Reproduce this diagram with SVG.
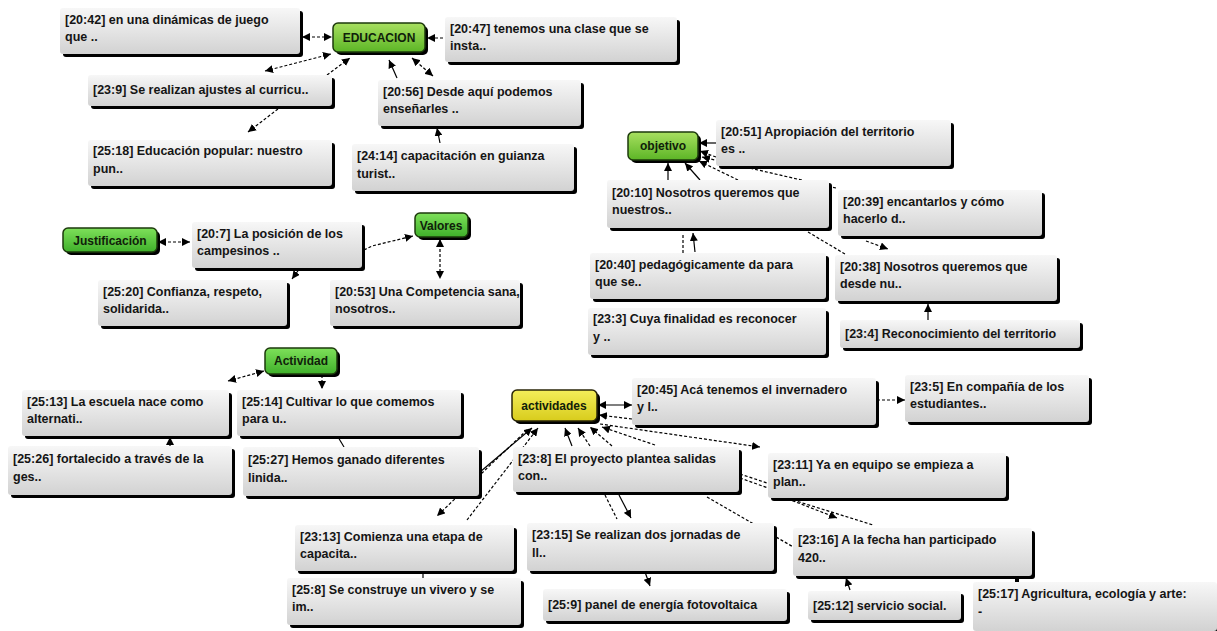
<svg xmlns="http://www.w3.org/2000/svg" width="1217" height="631" viewBox="0 0 1217 631">
<defs>
<linearGradient id="gbox" x1="0" y1="0" x2="0" y2="1"><stop offset="0" stop-color="#f7f7f7"/><stop offset="1" stop-color="#d2d2d2"/></linearGradient>
<linearGradient id="ggreen" x1="0" y1="0" x2="0" y2="1"><stop offset="0" stop-color="#a8e060"/><stop offset="1" stop-color="#5cb526"/></linearGradient>
<linearGradient id="ggreen2" x1="0" y1="0" x2="0" y2="1"><stop offset="0" stop-color="#7ee05a"/><stop offset="1" stop-color="#3fb02a"/></linearGradient>
<linearGradient id="gyellow" x1="0" y1="0" x2="0" y2="1"><stop offset="0" stop-color="#f4ee5a"/><stop offset="1" stop-color="#d8cc1c"/></linearGradient>
<marker id="ar" viewBox="0 0 8 8" refX="8" refY="4" markerWidth="8" markerHeight="8" markerUnits="userSpaceOnUse" orient="auto-start-reverse"><path d="M0,0 L8,4 L0,8 z" fill="#000"/></marker>
</defs>
<style>
.sh{fill:#000}
.box{fill:url(#gbox)}
.code{fill:url(#ggreen);stroke:#1d3a0c;stroke-width:1.5}
.code2{fill:url(#ggreen2);stroke:#1d3a0c;stroke-width:1.5}
.yel{fill:url(#gyellow);stroke:#2a2608;stroke-width:1.5}
text{font-family:"Liberation Sans",Arial,sans-serif;font-size:12.5px;font-weight:bold;fill:#151515}
.lbl{fill:#10200a;font-size:12px}
#connectors line,#connectors polyline{stroke:#000;stroke-width:1.2;fill:none}
.d{stroke-dasharray:3 2}
.e{marker-end:url(#ar)}
.s{marker-start:url(#ar)}
</style>
<rect width="1217" height="631" fill="#fff"/>
<g id="connectors">
<line class="d e s" x1="302" y1="37" x2="332" y2="37"/>
<line class="d e" x1="443" y1="38" x2="427" y2="38"/>
<line class="d e s" x1="265" y1="71" x2="331" y2="54"/>
<line class="d e" x1="327" y1="75" x2="350" y2="58"/>
<line class="d e" x1="278" y1="109" x2="248" y2="132"/>
<line class="e" x1="397" y1="78" x2="389" y2="60"/>
<line class="d e s" x1="412" y1="58" x2="433" y2="76"/>
<line class="e" x1="440" y1="143" x2="437" y2="128"/>
<line class="e" x1="716" y1="143" x2="699" y2="143"/>
<line class="d e" x1="716" y1="157" x2="700" y2="151"/>
<line class="e" x1="668" y1="180" x2="668" y2="163"/>
<line class="e" x1="700" y1="180" x2="685" y2="163"/>
<line class="d e" x1="738" y1="180" x2="699" y2="161"/>
<line class="d e" x1="836" y1="188" x2="702" y2="157"/>
<line class="d" x1="808" y1="232" x2="845" y2="254"/>
<line class="d e" x1="866" y1="241" x2="888" y2="249"/>
<line class="d" x1="683" y1="253" x2="683" y2="234"/>
<line class="e" x1="695" y1="252" x2="693" y2="233"/>
<line class="e" x1="928" y1="320" x2="928" y2="304"/>
<line class="d e s" x1="158" y1="242" x2="190" y2="242"/>
<polyline class="d e" points="364,250 372,246 413,236"/>
<line class="d e s" x1="440" y1="239" x2="440" y2="279"/>
<line class="e" x1="300" y1="268" x2="292" y2="279"/>
<line class="d e s" x1="228" y1="381" x2="264" y2="371"/>
<line class="d e" x1="322" y1="375" x2="322" y2="389"/>
<line class="e" x1="170" y1="446" x2="170" y2="437"/>
<line x1="338" y1="437" x2="344" y2="447"/>
<line class="e" x1="480" y1="472" x2="532" y2="428"/>
<line class="d e" x1="467" y1="520" x2="538" y2="428"/>
<line class="d e" x1="527" y1="430" x2="437" y2="516"/>
<line class="e s" x1="598" y1="405" x2="632" y2="405"/>
<line class="d e" x1="632" y1="419" x2="599" y2="415"/>
<line class="d e" x1="877" y1="400" x2="905" y2="400"/>
<line class="d e" x1="600" y1="424" x2="760" y2="447"/>
<line class="d e" x1="655" y1="445" x2="602" y2="427"/>
<line class="e" x1="572" y1="446" x2="565" y2="428"/>
<line class="d e" x1="590" y1="446" x2="578" y2="428"/>
<line class="d e" x1="612" y1="446" x2="590" y2="427"/>
<line class="d" x1="740" y1="474" x2="770" y2="484"/>
<line class="d" x1="740" y1="478" x2="768" y2="488"/>
<line class="d" x1="605" y1="495" x2="617" y2="519"/>
<line class="e" x1="619" y1="495" x2="631" y2="518"/>
<line class="d" x1="707" y1="497" x2="795" y2="548"/>
<line class="d e" x1="783" y1="497" x2="837" y2="518"/>
<line class="d" x1="793" y1="500" x2="873" y2="525"/>
<line class="e" x1="645" y1="572" x2="650" y2="586"/>
<line x1="423" y1="572" x2="423" y2="578"/>
<line class="e" x1="850" y1="590" x2="846" y2="578"/>
<line x1="1017" y1="577" x2="1017" y2="583" style="stroke-width:4"/>
</g>
<g id="n2042"><rect class="sh" x="63" y="11" width="240" height="46" rx="3"/><rect class="box" x="60" y="8" width="240" height="46" rx="3"/><text x="65" y="24">[20:42] en una dinámicas de juego<tspan x="65" y="41">que ..</tspan></text></g>
<g id="educacion"><rect class="sh" x="336" y="26" width="92" height="29" rx="5"/><rect class="code" x="333" y="23" width="92" height="29" rx="5"/><text class="lbl" x="379" y="42" text-anchor="middle">EDUCACION</text></g>
<g id="n2047"><rect class="sh" x="448" y="20" width="232" height="45" rx="3"/><rect class="box" x="445" y="17" width="232" height="45" rx="3"/><text x="450" y="33">[20:47] tenemos una clase que se<tspan x="450" y="50">insta..</tspan></text></g>
<g id="n239"><rect class="sh" x="91" y="78" width="244" height="31" rx="3"/><rect class="box" x="88" y="75" width="244" height="31" rx="3"/><text x="93" y="94">[23:9] Se realizan ajustes al curricu..</text></g>
<g id="n2056"><rect class="sh" x="381" y="83" width="203" height="46" rx="3"/><rect class="box" x="378" y="80" width="203" height="46" rx="3"/><text x="383" y="96">[20:56] Desde aquí podemos<tspan x="383" y="113">enseñarles ..</tspan></text></g>
<g id="n2518"><rect class="sh" x="91" y="143" width="244" height="46" rx="3"/><rect class="box" x="88" y="140" width="244" height="46" rx="3"/><text x="93" y="155">[25:18] Educación popular: nuestro<tspan x="93" y="173">pun..</tspan></text></g>
<g id="n2414"><rect class="sh" x="355" y="147" width="222" height="47" rx="3"/><rect class="box" x="352" y="144" width="222" height="47" rx="3"/><text x="357" y="160">[24:14] capacitación en guianza<tspan x="357" y="178">turist..</tspan></text></g>
<g id="objetivo"><rect class="sh" x="631" y="135" width="70" height="28" rx="5"/><rect class="code" x="628" y="132" width="70" height="28" rx="5"/><text class="lbl" x="663" y="150" text-anchor="middle">objetivo</text></g>
<g id="n2051"><rect class="sh" x="719" y="123" width="235" height="46" rx="3"/><rect class="box" x="716" y="120" width="235" height="46" rx="3"/><text x="721" y="136">[20:51] Apropiación del territorio<tspan x="721" y="153">es ..</tspan></text></g>
<g id="n2010"><rect class="sh" x="610" y="183" width="222" height="48" rx="3"/><rect class="box" x="607" y="180" width="222" height="48" rx="3"/><text x="612" y="197">[20:10] Nosotros queremos que<tspan x="612" y="214">nuestros..</tspan></text></g>
<g id="n2039"><rect class="sh" x="841" y="193" width="204" height="46" rx="3"/><rect class="box" x="838" y="190" width="204" height="46" rx="3"/><text x="843" y="206">[20:39] encantarlos y cómo<tspan x="843" y="223">hacerlo d..</tspan></text></g>
<g id="n2040"><rect class="sh" x="593" y="256" width="236" height="46" rx="3"/><rect class="box" x="590" y="253" width="236" height="46" rx="3"/><text x="595" y="269">[20:40] pedagógicamente da para<tspan x="595" y="286">que se..</tspan></text></g>
<g id="n2038"><rect class="sh" x="838" y="258" width="222" height="46" rx="3"/><rect class="box" x="835" y="255" width="222" height="46" rx="3"/><text x="840" y="271">[20:38] Nosotros queremos que<tspan x="840" y="288">desde nu..</tspan></text></g>
<g id="n233"><rect class="sh" x="591" y="311" width="238" height="47" rx="3"/><rect class="box" x="588" y="308" width="238" height="47" rx="3"/><text x="593" y="323">[23:3] Cuya finalidad es reconocer<tspan x="593" y="341">y ..</tspan></text></g>
<g id="n234"><rect class="sh" x="843" y="323" width="240" height="28" rx="3"/><rect class="box" x="840" y="320" width="240" height="28" rx="3"/><text x="845" y="338">[23:4] Reconocimiento del territorio</text></g>
<g id="justificacion"><rect class="sh" x="66" y="231" width="94" height="24" rx="5"/><rect class="code2" x="63" y="228" width="94" height="24" rx="5"/><text class="lbl" x="110" y="245" text-anchor="middle">Justificación</text></g>
<g id="n207"><rect class="sh" x="195" y="225" width="170" height="46" rx="3"/><rect class="box" x="192" y="222" width="170" height="46" rx="3"/><text x="197" y="238">[20:7] La posición de los<tspan x="197" y="255">campesinos ..</tspan></text></g>
<g id="valores"><rect class="sh" x="418" y="216" width="53" height="24" rx="5"/><rect class="code2" x="415" y="213" width="53" height="24" rx="5"/><text class="lbl" x="441" y="230" text-anchor="middle">Valores</text></g>
<g id="n2520"><rect class="sh" x="101" y="283" width="189" height="46" rx="3"/><rect class="box" x="98" y="280" width="189" height="46" rx="3"/><text x="103" y="296">[25:20] Confianza, respeto,<tspan x="103" y="313">solidarida..</tspan></text></g>
<g id="n2053"><rect class="sh" x="333" y="283" width="190" height="46" rx="3"/><rect class="box" x="330" y="280" width="190" height="46" rx="3"/><text x="335" y="296">[20:53] Una Competencia sana,<tspan x="335" y="313">nosotros..</tspan></text></g>
<g id="actividad"><rect class="sh" x="268" y="351" width="72" height="26" rx="5"/><rect class="code2" x="265" y="348" width="72" height="26" rx="5"/><text class="lbl" x="301" y="365" text-anchor="middle">Actividad</text></g>
<g id="n2513"><rect class="sh" x="25" y="393" width="207" height="46" rx="3"/><rect class="box" x="22" y="390" width="207" height="46" rx="3"/><text x="27" y="406">[25:13] La escuela nace como<tspan x="27" y="423">alternati..</tspan></text></g>
<g id="n2514"><rect class="sh" x="240" y="393" width="224" height="46" rx="3"/><rect class="box" x="237" y="390" width="224" height="46" rx="3"/><text x="242" y="406">[25:14] Cultivar lo que comemos<tspan x="242" y="423">para u..</tspan></text></g>
<g id="n2526"><rect class="sh" x="11" y="449" width="224" height="49" rx="3"/><rect class="box" x="8" y="446" width="224" height="49" rx="3"/><text x="13" y="463">[25:26] fortalecido a través de la<tspan x="13" y="481">ges..</tspan></text></g>
<g id="n2527"><rect class="sh" x="246" y="450" width="236" height="49" rx="3"/><rect class="box" x="243" y="447" width="236" height="49" rx="3"/><text x="248" y="464">[25:27] Hemos ganado diferentes<tspan x="248" y="482">linida..</tspan></text></g>
<g id="actividades"><rect class="sh" x="515" y="393" width="85" height="31" rx="5"/><rect class="yel" x="512" y="390" width="85" height="31" rx="5"/><text class="lbl" x="554" y="410" text-anchor="middle">actividades</text></g>
<g id="n2045"><rect class="sh" x="635" y="381" width="244" height="47" rx="3"/><rect class="box" x="632" y="378" width="244" height="47" rx="3"/><text x="637" y="394">[20:45] Acá tenemos el invernadero<tspan x="637" y="411">y l..</tspan></text></g>
<g id="n235"><rect class="sh" x="908" y="378" width="184" height="47" rx="3"/><rect class="box" x="905" y="375" width="184" height="47" rx="3"/><text x="910" y="391">[23:5] En compañía de los<tspan x="910" y="408">estudiantes..</tspan></text></g>
<g id="n238"><rect class="sh" x="516" y="450" width="226" height="45" rx="3"/><rect class="box" x="513" y="447" width="226" height="45" rx="3"/><text x="518" y="463">[23:8] El proyecto plantea salidas<tspan x="518" y="480">con..</tspan></text></g>
<g id="n2311"><rect class="sh" x="771" y="456" width="238" height="45" rx="3"/><rect class="box" x="768" y="453" width="238" height="45" rx="3"/><text x="773" y="469">[23:11] Ya en equipo se empieza a<tspan x="773" y="486">plan..</tspan></text></g>
<g id="n2313"><rect class="sh" x="298" y="528" width="219" height="46" rx="3"/><rect class="box" x="295" y="525" width="219" height="46" rx="3"/><text x="300" y="541">[23:13] Comienza una etapa de<tspan x="300" y="558">capacita..</tspan></text></g>
<g id="n258"><rect class="sh" x="290" y="581" width="234" height="47" rx="3"/><rect class="box" x="287" y="578" width="234" height="47" rx="3"/><text x="292" y="594">[25:8] Se construye un vivero y se<tspan x="292" y="611">im..</tspan></text></g>
<g id="n2315"><rect class="sh" x="530" y="526" width="247" height="48" rx="3"/><rect class="box" x="527" y="523" width="247" height="48" rx="3"/><text x="532" y="539">[23:15] Se realizan dos jornadas de<tspan x="532" y="557">ll..</tspan></text></g>
<g id="n259"><rect class="sh" x="546" y="592" width="244" height="32" rx="3"/><rect class="box" x="543" y="589" width="244" height="32" rx="3"/><text x="548" y="609">[25:9] panel de energía fotovoltaica</text></g>
<g id="n2316"><rect class="sh" x="796" y="531" width="239" height="48" rx="3"/><rect class="box" x="793" y="528" width="239" height="48" rx="3"/><text x="798" y="544">[23:16] A la fecha han participado<tspan x="798" y="562">420..</tspan></text></g>
<g id="n2512"><rect class="sh" x="811" y="594" width="153" height="29" rx="3"/><rect class="box" x="808" y="591" width="153" height="29" rx="3"/><text x="813" y="610">[25:12] servicio social.</text></g>
<g id="n2517"><rect class="sh" x="976" y="585" width="244" height="49" rx="3"/><rect class="box" x="973" y="582" width="244" height="49" rx="3"/><text x="978" y="598">[25:17] Agricultura, ecología y arte:<tspan x="978" y="616">-</tspan></text></g>
</svg>
